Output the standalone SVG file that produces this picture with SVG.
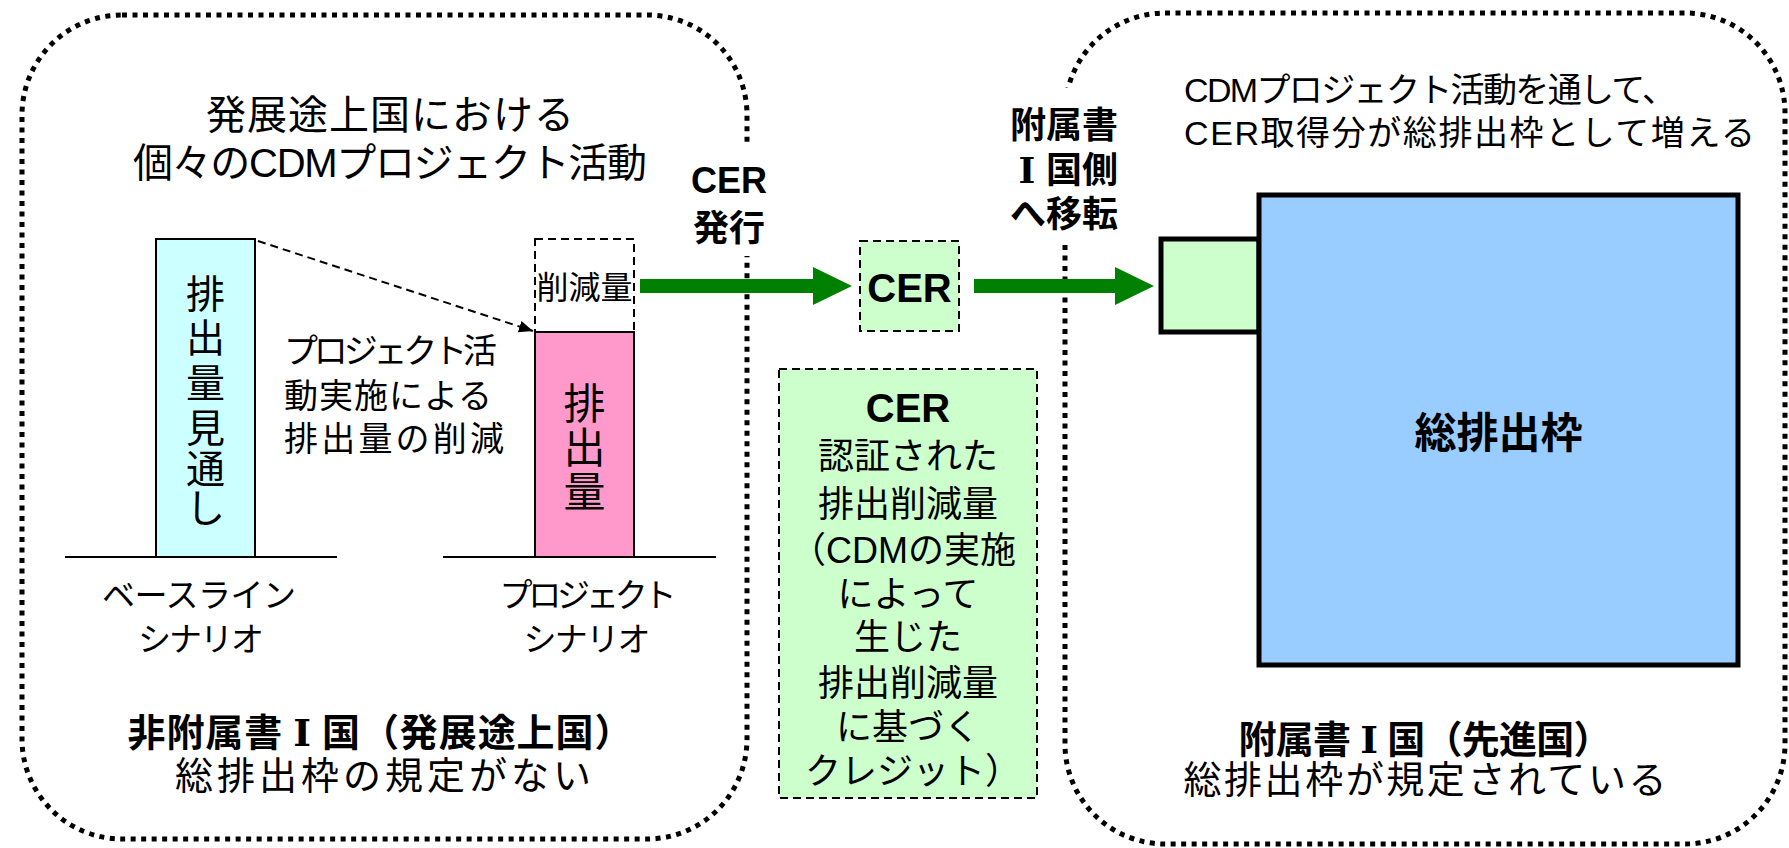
<svg xmlns="http://www.w3.org/2000/svg" width="1789" height="848" viewBox="0 0 1789 848">
<style>
.t{font-family:"Liberation Sans","Noto Sans CJK JP",sans-serif;fill:#000}
.rn{font-family:"DejaVu Serif","Liberation Serif","Noto Sans CJK JP",serif}
.b{font-weight:bold}
.m{text-anchor:middle}
.region{fill:none;stroke:#000;stroke-width:5;stroke-dasharray:5 5.5}
.dash{stroke:#000;stroke-width:2;stroke-dasharray:8 5}
.solid{stroke:#000;stroke-width:2}
.thick{stroke:#000;stroke-width:5}
.green{fill:#008000}
</style>
<defs>
<marker id="ah2" viewBox="0 0 12 12" refX="12" refY="6" markerWidth="14" markerHeight="14" orient="auto" markerUnits="userSpaceOnUse">
<path d="M0,1 L12,6 L0,11 z" fill="#000"/>
</marker>
</defs>

<g id="region-non-annex">
<rect class="region" x="22" y="15" width="725" height="824" rx="100" ry="100"/>
<text class="t m" x="390" y="129" font-size="40" textLength="368">発展途上国における</text>
<text class="t m" x="390" y="177" font-size="40" textLength="514">個々のCDMプロジェクト活動</text>
<text class="t b m" x="380" y="746" font-size="38" textLength="505">非附属書<tspan class="rn" dx="10">Ⅰ</tspan><tspan dx="10">国（発展途上国）</tspan></text>
<text class="t m" x="383" y="789" font-size="38" textLength="416">総排出枠の規定がない</text>
</g>

<g id="region-annex">
<rect class="region" x="1065" y="13" width="720" height="831" rx="100" ry="100"/>
<text class="t" x="1184" y="102" font-size="34" textLength="492">CDMプロジェクト活動を通して、</text>
<text class="t" x="1184" y="145" font-size="34" textLength="571">CER取得分が総排出枠として増える</text>
<text class="t b m" x="1425" y="753" font-size="38" textLength="373">附属書<tspan class="rn" dx="10">Ⅰ</tspan><tspan dx="10">国（先進国）</tspan></text>
<text class="t m" x="1425" y="793" font-size="38" textLength="483">総排出枠が規定されている</text>
</g>

<g id="baseline-scenario">
<line class="solid" x1="65" y1="557" x2="337" y2="557"/>
<rect x="156" y="239" width="99" height="318" fill="#CCFFFF" class="solid"/>
<g class="t m" font-size="39">
<text x="205.5" y="308">排</text>
<text x="205.5" y="352">出</text>
<text x="205.5" y="397">量</text>
<text x="205.5" y="442">見</text>
<text x="205.5" y="483">通</text>
<text x="205.5" y="522">し</text>
</g>
<text class="t m" x="199" y="607" font-size="33" textLength="194">ベースライン</text>
<text class="t m" x="201" y="651" font-size="33" textLength="126">シナリオ</text>
</g>

<g id="project-scenario">
<line class="solid" x1="443" y1="557" x2="716" y2="557"/>
<rect x="535" y="239" width="99" height="93" fill="#fff" class="dash"/>
<text class="t m" x="584.5" y="299" font-size="32">削減量</text>
<rect x="535" y="332" width="99" height="225" fill="#FF99CC" class="solid"/>
<g class="t m" font-size="42">
<text x="584.5" y="419">排</text>
<text x="584.5" y="463">出</text>
<text x="584.5" y="507">量</text>
</g>
<text class="t m" x="588" y="607" font-size="33" textLength="177">プロジェクト</text>
<text class="t m" x="587" y="651" font-size="33" textLength="127">シナリオ</text>
</g>

<g id="reduction-note">
<text class="t" x="284" y="363" font-size="34" textLength="213">プロジェクト活</text>
<text class="t" x="284" y="408" font-size="34" textLength="208">動実施による</text>
<text class="t" x="284" y="451" font-size="34" textLength="220">排出量の削減</text>
</g>

<g id="label-issue">
<rect x="737" y="146" width="20" height="110" fill="#fff"/>
<text class="t b m" font-size="36"><tspan x="729" y="193">CER</tspan><tspan x="729" y="241">発行</tspan></text>
</g>

<g id="label-transfer">
<rect x="1055" y="88" width="20" height="155" fill="#fff"/>
<text class="t b m" font-size="36"><tspan x="1064" y="138">附属書</tspan><tspan class="rn" x="1027" y="183">Ⅰ</tspan><tspan x="1082" y="183">国側</tspan><tspan x="1064" y="227">へ移転</tspan></text>
</g>

<g id="cer-unit">
<rect x="860" y="241" width="99" height="90" fill="#CCFFCC" class="dash"/>
<text class="t b m" x="909.5" y="302" font-size="40">CER</text>
</g>

<g id="cer-definition">
<rect x="779" y="369" width="258" height="429" fill="#CCFFCC" class="dash"/>
<text class="t b m" x="908" y="422" font-size="40">CER</text>
<g class="t m" font-size="36">
<text x="908" y="469">認証された</text>
<text x="908" y="517">排出削減量</text>
<text x="903" y="563">（CDMの実施</text>
<text x="908" y="607">によって</text>
<text x="908" y="650">生じた</text>
<text x="908" y="696">排出削減量</text>
<text x="908" y="740">に基づく</text>
<text x="913" y="784">クレジット）</text>
</g>
</g>

<g id="total-cap">
<rect x="1161" y="239" width="98" height="93" fill="#CCFFCC" class="thick"/>
<rect x="1259" y="195" width="479" height="470" fill="#99CCFF" class="thick"/>
<text class="t b m" x="1498.5" y="448" font-size="42">総排出枠</text>
</g>

<g id="connectors">
<line class="dash" x1="258" y1="241" x2="533" y2="331" marker-end="url(#ah2)"/>
<path class="green" d="M640,279 H813 V267 L852,286 L813,305 V293 H640 Z"/>
<path class="green" d="M974,279 H1115 V267 L1154,286 L1115,305 V293 H974 Z"/>
</g>
</svg>
